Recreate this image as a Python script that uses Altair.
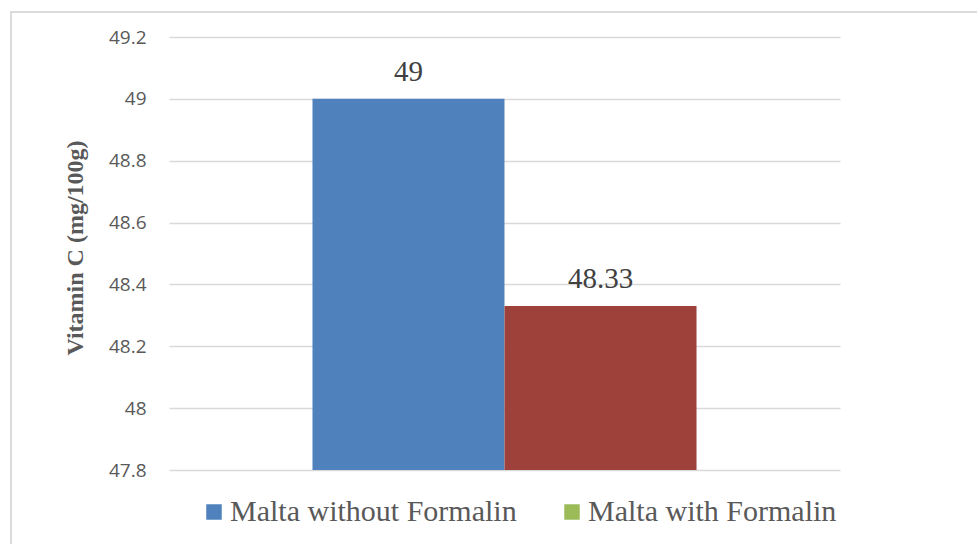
import altair as alt
import pandas as pd

categories = ["Malta without Formalin", "Malta with Formalin"]
values = [49, 48.33]
bar_colors = ["#4f81bd", "#9e413a"]
legend_colors = ["#4f81bd", "#9bbb59"]
y_ticks = [47.8, 48.0, 48.2, 48.4, 48.6, 48.8, 49.0, 49.2]
y_title = "Vitamin C (mg/100g)"

df = pd.DataFrame({"series": categories, "value": values,
                   "base": [y_ticks[0]] * len(values)})

W, H = 671, 433

x_enc = alt.X("series:N", sort=categories, axis=None,
              scale=alt.Scale(paddingInner=0, paddingOuter=0.747))
y_scale = alt.Scale(domain=[y_ticks[0], y_ticks[-1]], zero=False, nice=False)

bars = alt.Chart(df).mark_bar(size=192, strokeWidth=0).encode(
    x=x_enc,
    y=alt.Y("value:Q", scale=y_scale, title=y_title,
            axis=alt.Axis(values=y_ticks, format="~g", domain=False, ticks=False,
                          grid=True, gridColor="#d9d9d9", gridWidth=1.3,
                          labelFont="Open Sans", labelFontSize=19, labelColor="#595959",
                          labelPadding=23,
                          titleFont="Liberation Serif", titleFontSize=24, titleFontWeight="bold",
                          titleColor="#595959", titleAngle=-90, titleX=-94, titleY=H / 2 - 6,
                          titleAlign="center", titleBaseline="middle")),
    y2=alt.Y2("base:Q"),
    color=alt.Color("series:N", scale=alt.Scale(domain=categories, range=bar_colors), legend=None),
)

labels = alt.Chart(df).mark_text(font="Liberation Serif", fontSize=29, color="#404040",
                                 baseline="alphabetic", dy=-18).encode(
    x=x_enc,
    y=alt.Y("value:Q", scale=y_scale),
    text=alt.Text("value:Q", format="~g"),
)

legend_layer = alt.Chart(df).mark_square(opacity=0).encode(
    x=x_enc,
    y=alt.Y("value:Q", scale=y_scale),
    color=alt.Color("series:N", sort=categories,
                    scale=alt.Scale(domain=categories, range=legend_colors),
                    legend=alt.Legend(title=None, orient="none", legendX=30, legendY=460,
                                      direction="horizontal", symbolType="square",
                                      symbolSize=240, symbolOpacity=1, symbolStrokeWidth=0,
                                      labelFont="Liberation Serif", labelFontSize=30,
                                      labelColor="#595959", labelOffset=1, labelLimit=500,
                                      columnPadding=40)),
)

border = alt.Chart(df).mark_rect(fill="transparent", stroke="#d9d9d9", strokeWidth=1.5).encode(
    x=alt.value(-158), x2=alt.value(820), y=alt.value(-25), y2=alt.value(520)
)

chart = alt.layer(border, bars, labels, legend_layer).resolve_scale(
    color="independent"
).properties(
    width=W, height=H,
    autosize=alt.AutoSizeParams(type="none"),
    padding={"left": 169, "top": 37, "right": 137, "bottom": 74},
    background="white",
).configure_view(stroke=None)

chart.save("out.html", embed_options={"renderer": "svg", "actions": False})
